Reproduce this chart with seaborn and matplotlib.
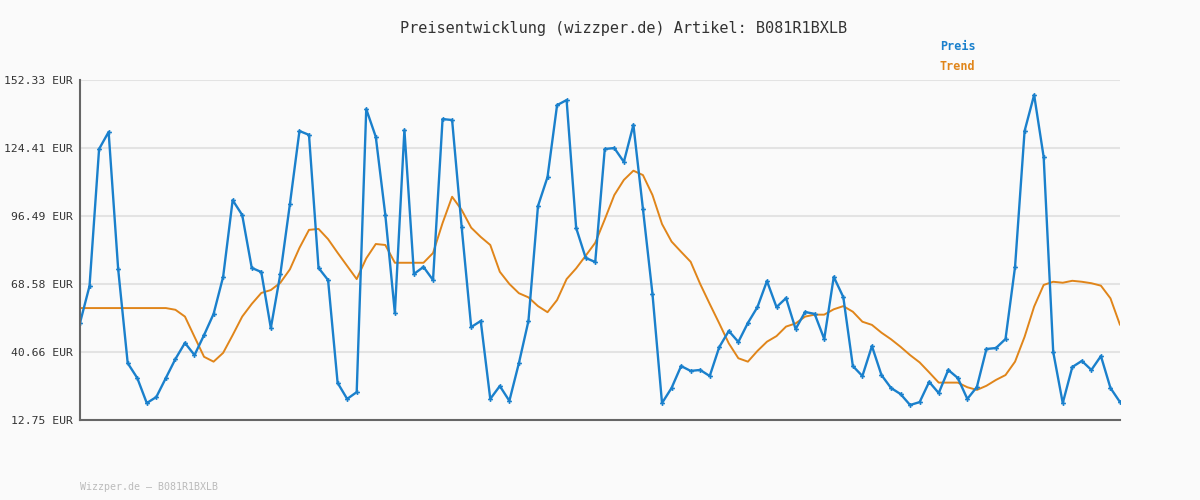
import numpy as np
import pandas as pd
import matplotlib
matplotlib.use("Agg")
import matplotlib.pyplot as plt
import seaborn as sns

# Preis per Messpunkt
preis = [52.6, 67.8, 124.0, 131.0, 74.7, 36.1, 30.0, 19.7, 22.2, 30.0,
         37.8, 44.4, 39.4, 47.6, 56.3, 71.5, 103.0, 96.9, 75.2, 73.5,
         50.5, 72.7, 101.4, 131.4, 129.8, 75.2, 70.2, 28.0, 21.4, 24.2,
         140.4, 129.0, 96.9, 56.7, 131.8, 72.7, 75.6, 70.2, 136.3, 135.9,
         92.0, 50.9, 53.4, 21.4, 26.7, 20.6, 36.1, 53.4, 100.6, 112.5,
         142.0, 144.1, 91.6, 79.3, 77.6, 124.0, 124.4, 118.7, 133.9, 99.4,
         64.5, 19.7, 25.9, 34.9, 32.9, 33.3, 30.8, 42.7, 49.3, 44.8,
         52.6, 59.1, 69.8, 59.1, 62.8, 50.1, 57.1, 56.3, 46.0, 71.5,
         63.2, 34.9, 30.8, 43.1, 31.2, 25.9, 23.4, 18.9, 20.1, 28.4,
         23.8, 33.3, 30.0, 21.4, 26.3, 41.9, 42.3, 46.0, 75.6, 131.4,
         146.2, 120.7, 40.7, 19.7, 34.5, 37.0, 33.3, 39.0, 25.9, 20.1]

trend = [58.7] * 10 + [
         58.0, 55.2, 46.9, 38.7, 36.7, 40.3, 47.6, 55.2, 60.4, 64.9,
         66.1, 69.1, 74.6, 83.4, 90.8, 91.2, 87.0, 81.4, 76.0, 70.6,
         79.1, 85.0, 84.6, 77.3, 77.3, 77.3, 77.3, 81.3, 93.6, 104.4,
         99.0, 91.7, 87.9, 84.6, 73.6, 68.6, 64.8, 63.1, 59.5, 57.0,
         62.0, 70.6, 75.0, 80.2, 85.5, 95.1, 105.1, 111.3, 115.1, 113.3,
         105.1, 93.2, 86.0, 81.8, 77.7, 68.6, 60.4, 52.4, 44.2, 38.1,
         36.7, 41.1, 44.9, 47.2, 51.1, 52.4, 55.2, 56.0, 56.0, 58.2,
         59.5, 57.2, 53.1, 51.8, 48.6, 45.9, 42.8, 39.4, 36.4, 32.3,
         28.1, 28.1, 28.1, 26.2, 25.1, 26.8, 29.2, 31.2, 36.7, 46.9,
         59.3, 68.2, 69.5, 69.1, 69.9, 69.5, 68.9, 67.9, 62.7, 51.8]

yticks = [12.75, 40.66, 68.58, 96.49, 124.41, 152.33]
ytick_labels = ["12.75 EUR", "40.66 EUR", "68.58 EUR", "96.49 EUR", "124.41 EUR", "152.33 EUR"]

blue = "#1a80cc"
orange = "#e0851a"
mono = "DejaVu Sans Mono"

df = pd.DataFrame({"idx": np.arange(len(preis)), "preis": preis, "trend": trend})

sns.set_style("white")
plt.rcParams["font.family"] = [mono]

fig = plt.figure(figsize=(12, 5), dpi=100, facecolor="#fafafa")
ax = fig.add_axes([80 / 1200, 80 / 500, 1040 / 1200, 340 / 500])
ax.set_facecolor("#fafafa")

sns.lineplot(data=df, x="idx", y="trend", ax=ax, color=orange, linewidth=1.4)
sns.lineplot(data=df, x="idx", y="preis", ax=ax, color=blue, linewidth=1.7,
             marker="P", markersize=3.5, markeredgewidth=0)

ax.set_xlim(0, len(preis) - 1)
ax.set_ylim(yticks[0], yticks[-1])
ax.set_yticks(yticks)
ax.set_yticklabels(ytick_labels, fontsize=8.2, color="#333333")
ax.set_xticks([])
ax.set_xlabel("")
ax.set_ylabel("")
ax.grid(axis="y", color="#e3e3e3", linewidth=1.5)
ax.set_axisbelow(True)
for s in ["top", "right"]:
    ax.spines[s].set_visible(False)
for s in ["left", "bottom"]:
    ax.spines[s].set_color("#666666")
    ax.spines[s].set_linewidth(1.5)
ax.tick_params(axis="y", length=4, width=1, color="#666666", pad=1)

fig.text(0.52, 1 - 28 / 500, "Preisentwicklung (wizzper.de) Artikel: B081R1BXLB",
         ha="center", va="center", fontsize=11, color="#333333")
fig.text(940 / 1200, 1 - 47 / 500, "Preis", color=blue, fontsize=8.5,
         fontweight="bold", va="center")
fig.text(940 / 1200, 1 - 67 / 500, "Trend", color=orange, fontsize=8.5,
         fontweight="bold", va="center")
fig.text(80 / 1200, 1 - 487 / 500, "Wizzper.de – B081R1BXLB", color="#bbbbbb",
         fontsize=7.2, va="center")

fig.savefig("out.png", dpi=100, facecolor=fig.get_facecolor())
